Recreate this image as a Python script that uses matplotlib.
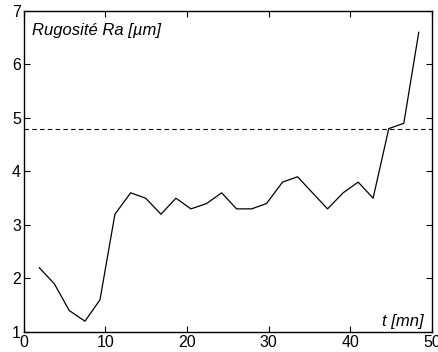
import matplotlib
matplotlib.use('Agg')
import matplotlib.pyplot as plt

# data
t_mn = [1.91, 3.75, 5.58, 7.50, 9.34, 11.17, 13.10, 14.93, 16.81, 18.64,
        20.48, 22.40, 24.24, 26.07, 27.91, 29.74, 31.70, 33.54, 35.37, 37.21,
        39.12, 40.96, 42.79, 44.71, 46.55, 48.38]
ra = [2.2, 1.9, 1.4, 1.2, 1.6, 3.2, 3.6, 3.5, 3.2, 3.5,
      3.3, 3.4, 3.6, 3.3, 3.3, 3.4, 3.8, 3.9, 3.6, 3.3,
      3.6, 3.8, 3.5, 4.8, 4.9, 6.6]
limit_ra = 4.8

x_ticks = [0, 10, 20, 30, 40, 50]
y_ticks = [1, 2, 3, 4, 5, 6, 7]

plt.rcParams['font.family'] = ['Liberation Sans', 'DejaVu Sans']

fig = plt.figure(figsize=(4.39, 3.52), dpi=100)
ax = fig.add_axes([0.054, 0.057, 0.930, 0.912])

ax.plot(t_mn, ra, color='black', linewidth=0.9)
ax.axhline(limit_ra, color='black', linewidth=0.8, linestyle=(0, (4, 3)))

ax.set_xlim(0, 50)
ax.set_ylim(1, 7)
ax.set_xticks(x_ticks)
ax.set_yticks(y_ticks)
ax.tick_params(direction='in', top=True, right=True, length=4, width=0.8,
               labelsize=11.5, pad=2)
for s in ax.spines.values():
    s.set_linewidth(1.0)

ax.text(0.02, 0.962, 'Rugosité Ra [µm]', transform=ax.transAxes,
        ha='left', va='top', fontsize=12, style='italic')
ax.text(0.979, 0.01, 't [mn]', transform=ax.transAxes,
        ha='right', va='bottom', fontsize=12, style='italic')

fig.savefig('out.png', dpi=100)
